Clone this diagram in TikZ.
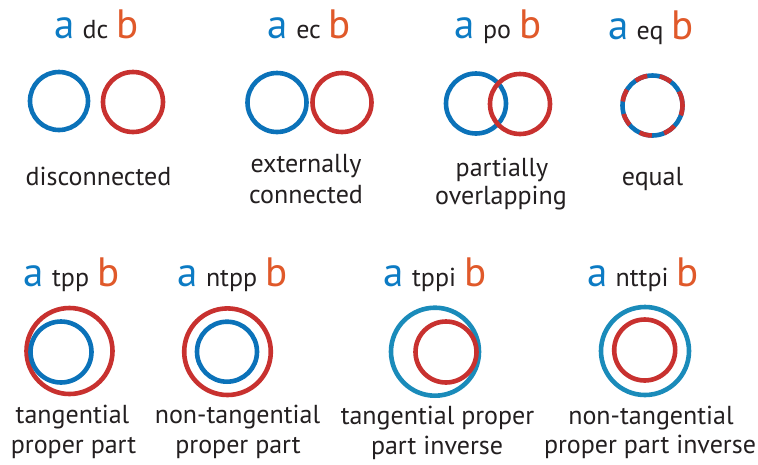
\documentclass[tikz,border=0pt]{standalone}
\usepackage{fontspec}
\setmainfont{PT Sans}
\definecolor{ringblue}{HTML}{0B72B9}
\definecolor{ringteal}{HTML}{1A8BBA}
\definecolor{ringred}{HTML}{C8312F}
\definecolor{letterA}{HTML}{0C7BC4}
\definecolor{letterB}{HTML}{E0592A}
\definecolor{ink}{HTML}{231F20}
\newcommand{\relname}[1]{{\fontsize{41}{41}\selectfont\textcolor{letterA}{a}}\hspace{8pt}#1\hspace{8pt}{\fontsize{41}{41}\selectfont\textcolor{letterB}{b}}}
\tikzset{
  ring/.style={line width=4.6pt},
  title/.style={anchor=base, inner sep=0pt, text=ink, font=\fontsize{26}{26}\selectfont},
  caption/.style={anchor=base, inner sep=0pt, text=ink, font=\fontsize{26}{26}\selectfont}
}
\begin{document}
\begin{tikzpicture}[x=1pt, y=-1pt]
\useasboundingbox[fill=white] (0,0) rectangle (758,464);

% --- top row: relation names ---
\node[title] (tdc) at (96.5,38) {\relname{dc}};
\node[title] (tec) at (309.5,38) {\relname{ec}};
\node[title] (tpo) at (498,38) {\relname{po}};
\node[title] (teq) at (651,39) {\relname{eq}};

% --- top row: rings ---
\draw[ring, ringblue] (59,101) circle[radius=29];
\draw[ring, ringred] (133,102) circle[radius=30];

\draw[ring, ringblue] (277,102.5) circle[radius=29.5];
\draw[ring, ringred] (342,102.5) circle[radius=29.5];

\draw[ring, ringblue] (476,103.5) circle[radius=30];
\draw[ring, ringred] (520,104) circle[radius=30];

% equal: blue ring overlaid by a dashed red ring
\draw[ring, ringblue] (652.5,105.5) circle[radius=30];
\draw[ring, ringred, dash pattern=on 12.6pt off 12.6pt] (652.5,105.5) ++(-5:30) arc[start angle=-5, end angle=355, radius=30];

% --- top row: captions ---
\node[caption] (cdc) at (98.5,185.5) {disconnected};
\node[caption] (cec1) at (306,172) {externally};
\node[caption] (cec2) at (306,203.5) {connected};
\node[caption] (cpo1) at (502,176) {partially};
\node[caption] (cpo2) at (501,204) {overlapping};
\node[caption] (ceq) at (652.5,185) {equal};

% --- bottom row: relation names ---
\node[title] (ttpp) at (71.5,286) {\relname{tpp}};
\node[title] (tntpp) at (232.5,286) {\relname{ntpp}};
\node[title] (ttppi) at (435,286) {\relname{tppi}};
\node[title] (tnttpi) at (643,286) {\relname{nttpi}};

% --- bottom row: rings ---
\draw[ring, ringred] (69.5,351) circle[radius=43];
\draw[ring, ringblue] (61,352) circle[radius=30.5];

\draw[ring, ringred] (227.5,351.7) circle[radius=43.3];
\draw[ring, ringblue] (227,351.7) circle[radius=30];

\draw[ring, ringteal] (435,351.7) circle[radius=44];
\draw[ring, ringred] (446,352) circle[radius=30.5];

\draw[ring, ringteal] (645,351) circle[radius=44];
\draw[ring, ringred] (644.7,350) circle[radius=30.5];

% --- bottom row: captions ---
\node[caption] (ctpp1) at (72.5,423.5) {tangential};
\node[caption] (ctpp2) at (73.5,453) {proper part};
\node[caption] (cntpp1) at (237.5,423.5) {non-tangential};
\node[caption] (cntpp2) at (238,453) {proper part};
\node[caption] (ctppi1) at (437.5,424.5) {tangential proper};
\node[caption] (ctppi2) at (437,454) {part inverse};
\node[caption] (cnttpi1) at (651,424) {non-tangential};
\node[caption] (cnttpi2) at (650,453.5) {proper part inverse};
\end{tikzpicture}
\end{document}
